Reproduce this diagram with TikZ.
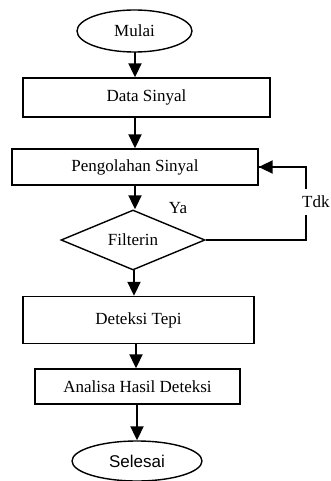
\documentclass[tikz,border=0pt]{standalone}
\usepackage{fontspec}
\setmainfont{Liberation Serif}
\newfontfamily\arialf{Liberation Sans}
\usetikzlibrary{shapes.geometric,arrows.meta,calc}
\begin{document}
\begin{tikzpicture}[x=1pt,y=-1pt,
  every node/.style={font=\fontsize{17}{20}\selectfont, inner sep=0pt},
  boxst/.style={draw, line width=1.4pt, rectangle},
  termst/.style={draw, line width=1.4pt, ellipse},
  decst/.style={draw, line width=1.4pt, diamond},
  arr/.style={line width=2pt, -{Triangle[width=13pt,length=14pt]}},
  fb/.style={line width=1.6pt}]
\useasboundingbox (0,0) rectangle (330,481);
\node[termst, minimum width=115pt, minimum height=42pt] (mulai) at (134.5,31) {Mulai};
\node[boxst, minimum width=247pt, minimum height=39pt] (data) at (146.5,97.5) {Data Sinyal};
\node[boxst, minimum width=246pt, minimum height=36pt] (olah) at (135,167) {Pengolahan Sinyal};
\node[decst, minimum width=144pt, minimum height=60pt, aspect=2.4] (filt) at (133,240) {Filterin};
\node[boxst, minimum width=231pt, minimum height=47pt] (tepi) at (138.5,320) {Deteksi Tepi};
\node[boxst, minimum width=205pt, minimum height=35pt] (anal) at (137.5,386.5) {Analisa Hasil Deteksi};
\node[termst, minimum width=130pt, minimum height=40pt] (selesai) at (137,461) {\arialf Selesai};
\coordinate (c1) at (135,52);
\coordinate (c3) at (135,185);
\coordinate (c4) at (134,270);
\coordinate (c5) at (136,343);
\coordinate (c6) at (137,404);
\coordinate (corner) at (306,240);
\coordinate (fbin) at ($(olah.east)+(20,0)$);
\draw[arr] (c1) -- (c1 |- data.north);
\draw[arr] (c1 |- data.south) -- (c1 |- olah.north);
\draw[arr] (c3) -- (c3 |- filt.north);
\draw[arr] (c4) -- (c4 |- tepi.north);
\draw[arr] (c5) -- (c5 |- anal.north);
\draw[arr] (c6) -- (c6 |- selesai.north);
\draw[fb] (filt.east) -- (corner) |- (olah.east);
\draw[arr] (fbin) -- (olah.east);
\node[anchor=west, fill=white, inner ysep=7pt, inner xsep=1pt] (tdk) at (301,202) {Tdk};
\node (ya) at (178,208) {Ya};
\end{tikzpicture}
\end{document}
